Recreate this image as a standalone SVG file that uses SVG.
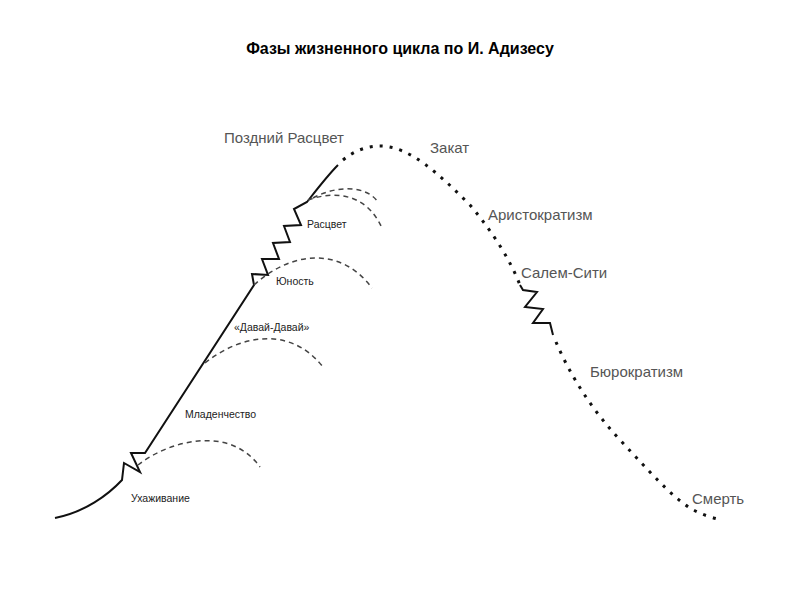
<svg xmlns="http://www.w3.org/2000/svg" width="800" height="600" viewBox="0 0 800 600">
<style>
.t{font-family:"Liberation Sans",Arial,sans-serif}
.big{font-size:15px;fill:#555}
.sm{font-size:10.5px;fill:#222}
.solid{fill:none;stroke:#111;stroke-width:2;stroke-linejoin:miter}
.dash{fill:none;stroke:#444;stroke-width:1.5;stroke-dasharray:5 4}
.dot{fill:none;stroke:#111;stroke-width:3;stroke-dasharray:3 7}
</style>
<rect width="800" height="600" fill="#fff"/>
<text class="t" x="400" y="54" text-anchor="middle" font-size="16" font-weight="bold" fill="#000">Фазы жизненного цикла по И. Адизесу</text>
<g id="connectors">
<path class="solid" d="M55,518 C85,512 108,495 122,480 L124,463 L140,472 L131,453 L145,453 L254,285 L252,274 L268,275 L262,259 L279,259 L273,243 L290,242 L284,226 L301,225 L294,209 L307,202 C318,188 328,175 338,165"/>
<path class="dot" d="M343,160 C355,150 368,146 380,146 C410,146 440,175 470,205 C495,235 510,260 520,285"/>
<path class="solid" d="M520,285 L523,290 L537,292 L525,307 L543,309 L533,323 L550,323 L553,335"/>
<path class="dot" d="M556,342 C570,375 592,410 620,440 C650,472 670,495 690,508 C700,514 712,518 722,520"/>
<path class="dash" d="M138,465 C170,440 230,425 260,467"/>
<path class="dash" d="M205,363 C240,335 290,325 323,367"/>
<path class="dash" d="M254,285 C290,252 340,245 372,288"/>
<path class="dash" d="M308,200 C330,192 365,190 382,228"/>
<path class="dash" d="M313,198 C335,186 365,184 378,202"/>
</g>
<g id="labels">
<text class="t big" x="224" y="143">Поздний Расцвет</text>
<text class="t big" x="430" y="153">Закат</text>
<text class="t big" x="488" y="220">Аристократизм</text>
<text class="t big" x="521" y="278">Салем-Сити</text>
<text class="t big" x="590" y="377">Бюрократизм</text>
<text class="t big" x="692" y="504">Смерть</text>
<text class="t sm" x="307" y="228">Расцвет</text>
<text class="t sm" x="276" y="285">Юность</text>
<text class="t sm" x="234" y="331">«Давай-Давай»</text>
<text class="t sm" x="185" y="418">Младенчество</text>
<text class="t sm" x="131" y="502">Ухаживание</text>
</g>
</svg>
